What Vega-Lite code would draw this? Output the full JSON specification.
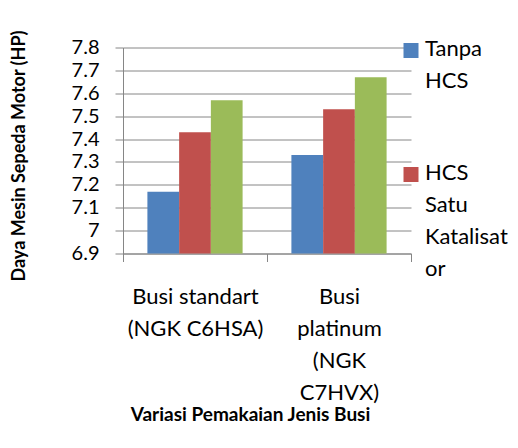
{
  "$schema": "https://vega.github.io/schema/vega-lite/v6.json",
  "width": 288,
  "height": 206,
  "autosize": "none",
  "padding": {"left": 123, "top": 47.5, "right": 107, "bottom": 194.5},
  "background": "white",
  "config": {"view": {"stroke": null}, "font": "Lato"},
  "data": {
    "values": [
      {"jenis": "Busi standart (NGK C6HSA)", "seri": "Tanpa HCS", "daya": 7.17},
      {"jenis": "Busi standart (NGK C6HSA)", "seri": "HCS Satu Katalisator", "daya": 7.43},
      {"jenis": "Busi standart (NGK C6HSA)", "seri": "HCS Dua Katalisator", "daya": 7.57},
      {"jenis": "Busi platinum (NGK C7HVX)", "seri": "Tanpa HCS", "daya": 7.33},
      {"jenis": "Busi platinum (NGK C7HVX)", "seri": "HCS Satu Katalisator", "daya": 7.53},
      {"jenis": "Busi platinum (NGK C7HVX)", "seri": "HCS Dua Katalisator", "daya": 7.67}
    ]
  },
  "mark": {"type": "bar"},
  "encoding": {
    "x": {
      "field": "jenis",
      "type": "nominal",
      "sort": null,
      "scale": {"paddingInner": 0, "paddingOuter": 0},
      "axis": {
        "title": "Variasi Pemakaian Jenis Busi",
        "labelAngle": 0,
        "tickBand": "extent",
        "labelExpr": "datum.label == 'Busi standart (NGK C6HSA)' ? ['Busi standart', '(NGK C6HSA)'] : datum.label == 'Busi platinum (NGK C7HVX)' ? ['Busi', 'platinum', '(NGK', 'C7HVX)'] : ''",
        "labelFontSize": 22,
        "labelLineHeight": 32,
        "labelPadding": 25,
        "labelLimit": 0,
        "labelColor": "black",
        "tickSize": 8,
        "tickColor": "#868686",
        "domainColor": "#868686",
        "titleFontSize": 19,
        "titleFontWeight": "bold",
        "titleColor": "black",
        "titleX": 127,
        "titleY": 167,
        "titleBaseline": "alphabetic",
        "titleAlign": "center"
      }
    },
    "xOffset": {
      "field": "seri",
      "type": "nominal",
      "sort": ["Tanpa HCS", "HCS Satu Katalisator", "HCS Dua Katalisator"],
      "scale": {"paddingInner": 0, "paddingOuter": 0.769}
    },
    "y": {
      "field": "daya",
      "type": "quantitative",
      "scale": {"domain": [6.9, 7.8], "zero": false, "nice": false},
      "axis": {
        "values": [6.9, 7.0, 7.1, 7.2, 7.3, 7.4, 7.5, 7.6, 7.7, 7.8],
        "format": "~g",
        "labelFontSize": 20,
        "labelPadding": 16,
        "labelOverlap": false,
        "labelColor": "black",
        "tickSize": 8,
        "tickColor": "#868686",
        "domainColor": "#868686",
        "gridColor": "#868686",
        "title": "Daya Mesin Sepeda Motor (HP)",
        "titleFontSize": 18,
        "titleFontWeight": "bold",
        "titleColor": "black",
        "titleX": -98.5,
        "titleY": 108,
        "titleBaseline": "alphabetic",
        "titleAlign": "center",
        "titleAngle": -90
      }
    },
    "y2": {"datum": 6.9},
    "color": {
      "field": "seri",
      "type": "nominal",
      "scale": {
        "domain": ["Tanpa HCS", "HCS Satu Katalisator", "HCS Dua Katalisator"],
        "range": ["#4F81BD", "#C0504D", "#9BBB59"]
      },
      "legend": {
        "values": ["Tanpa HCS", "HCS Satu Katalisator"],
        "title": null,
        "orient": "none",
        "legendX": 277,
        "legendY": -8,
        "symbolType": "square",
        "symbolSize": 225,
        "symbolStrokeWidth": 0,
        "symbolOpacity": 1,
        "labelFontSize": 22,
        "labelOffset": 3,
        "labelBaseline": "top",
        "labelLimit": 0,
        "labelColor": "black",
        "rowPadding": 70,
        "labelExpr": "datum.label == 'Tanpa HCS' ? ['Tanpa', 'HCS'] : ['HCS', 'Satu', 'Katalisat', 'or']",
        "encode": {
          "labels": {"update": {"lineHeight": {"value": 32}, "dy": {"value": -12}}}
        }
      }
    }
  }
}
